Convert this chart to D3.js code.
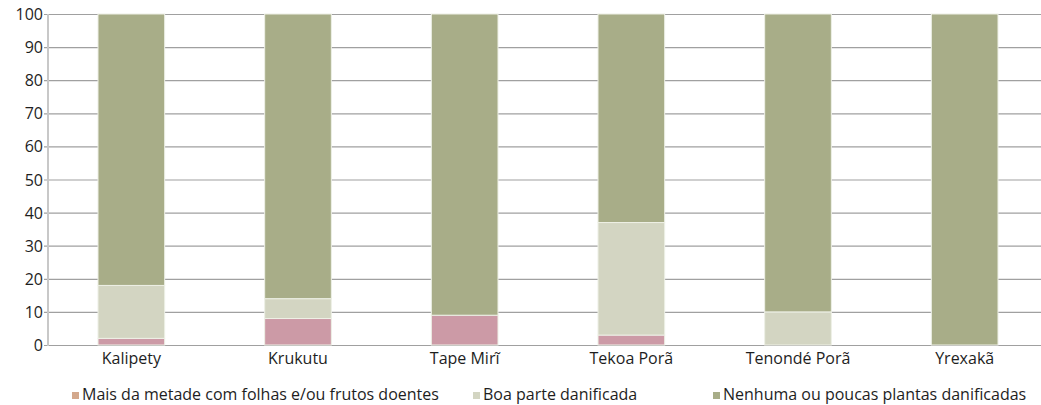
<!DOCTYPE html>
<html>
<head>
<meta charset="utf-8">
<script src="https://cdn.jsdelivr.net/npm/d3@7"></script>
<style>
  body { margin: 0; background: #fff; }
  text { font-family: "Open Sans", "Lato", sans-serif; fill: #1e1e1e; }
</style>
</head>
<body>
<svg id="chart" width="1041" height="405"></svg>
<script>
// aldeias e valores (%)
var aldeias = ["Kalipety", "Krukutu", "Tape Mirĩ", "Tekoa Porã", "Tenondé Porã", "Yrexakã"];
var doentes = [2, 8, 9, 3, 0, 0];
var boaParte = [16, 6, 0, 34, 10, 0];
var nenhuma = [82, 86, 91, 63, 90, 100];
var yTicks = [0, 10, 20, 30, 40, 50, 60, 70, 80, 90, 100];

var series = [
  { name: "Mais da metade com folhas e/ou frutos doentes", values: doentes, color: "#cc9aa6", legend: "#d3a88c" },
  { name: "Boa parte danificada", values: boaParte, color: "#d3d5c2", legend: "#d3d5c2" },
  { name: "Nenhuma ou poucas plantas danificadas", values: nenhuma, color: "#a8ad88", legend: "#a8ad88" }
];

var svg = d3.select("#chart");
var mLeft = 48, mRight = 1048, mTop = 14, mBottom = 345;

var x = d3.scaleBand().domain(aldeias).range([mLeft, mRight]).paddingInner(0.6).paddingOuter(0.3);
var y = d3.scaleLinear().domain([0, 100]).range([mBottom, mTop]);

// grade
svg.append("g")
  .selectAll("line")
  .data(yTicks)
  .enter()
  .append("line")
  .attr("x1", mLeft - 4)
  .attr("x2", 1041)
  .attr("y1", function(d) { return y(d) + 0.5; })
  .attr("y2", function(d) { return y(d) + 0.5; })
  .attr("stroke", "#a0a0a0")
  .attr("stroke-width", 1.2);

// barras empilhadas
var stackData = aldeias.map(function(a, i) {
  var o = { aldeia: a };
  series.forEach(function(s) { o[s.name] = s.values[i]; });
  return o;
});
var stack = d3.stack().keys(series.map(function(s) { return s.name; }))(stackData);

svg.append("g")
  .selectAll("g")
  .data(stack)
  .enter()
  .append("g")
  .attr("fill", function(d, i) { return series[i].color; })
  .selectAll("rect")
  .data(function(d) { return d.filter(function(p) { return p[1] - p[0] > 0; }); })
  .enter()
  .append("rect")
  .attr("x", function(d) { return x(d.data.aldeia); })
  .attr("width", x.bandwidth())
  .attr("y", function(d) { return y(d[1]); })
  .attr("height", function(d) { return y(d[0]) - y(d[1]); })
  .attr("stroke", "#eef0e6")
  .attr("stroke-width", 1);

// eixo y
svg.append("line")
  .attr("x1", mLeft).attr("x2", mLeft)
  .attr("y1", mTop).attr("y2", mBottom + 1)
  .attr("stroke", "#c8c8c8")
  .attr("stroke-width", 2);

svg.append("g")
  .selectAll("text")
  .data(yTicks)
  .enter()
  .append("text")
  .attr("x", mLeft - 5)
  .attr("y", function(d) { return y(d) + 6; })
  .attr("text-anchor", "end")
  .attr("font-size", 16)
  .text(function(d) { return d; });

// rótulos x
svg.append("g")
  .selectAll("text")
  .data(aldeias)
  .enter()
  .append("text")
  .attr("x", function(d) { return x(d) + x.bandwidth() / 2; })
  .attr("y", 364)
  .attr("text-anchor", "middle")
  .attr("font-size", 16)
  .text(function(d) { return d; });

// legenda
var legX = [72, 473, 713];
var leg = svg.append("g").attr("class", "legend");
leg.selectAll("rect")
  .data(series)
  .enter()
  .append("rect")
  .attr("x", function(d, i) { return legX[i]; })
  .attr("y", 392)
  .attr("width", 7)
  .attr("height", 7)
  .attr("fill", function(d) { return d.legend; });
leg.selectAll("text")
  .data(series)
  .enter()
  .append("text")
  .attr("x", function(d, i) { return legX[i] + 10; })
  .attr("y", 400)
  .attr("font-size", 16)
  .text(function(d) { return d.name; });
</script>
</body>
</html>
